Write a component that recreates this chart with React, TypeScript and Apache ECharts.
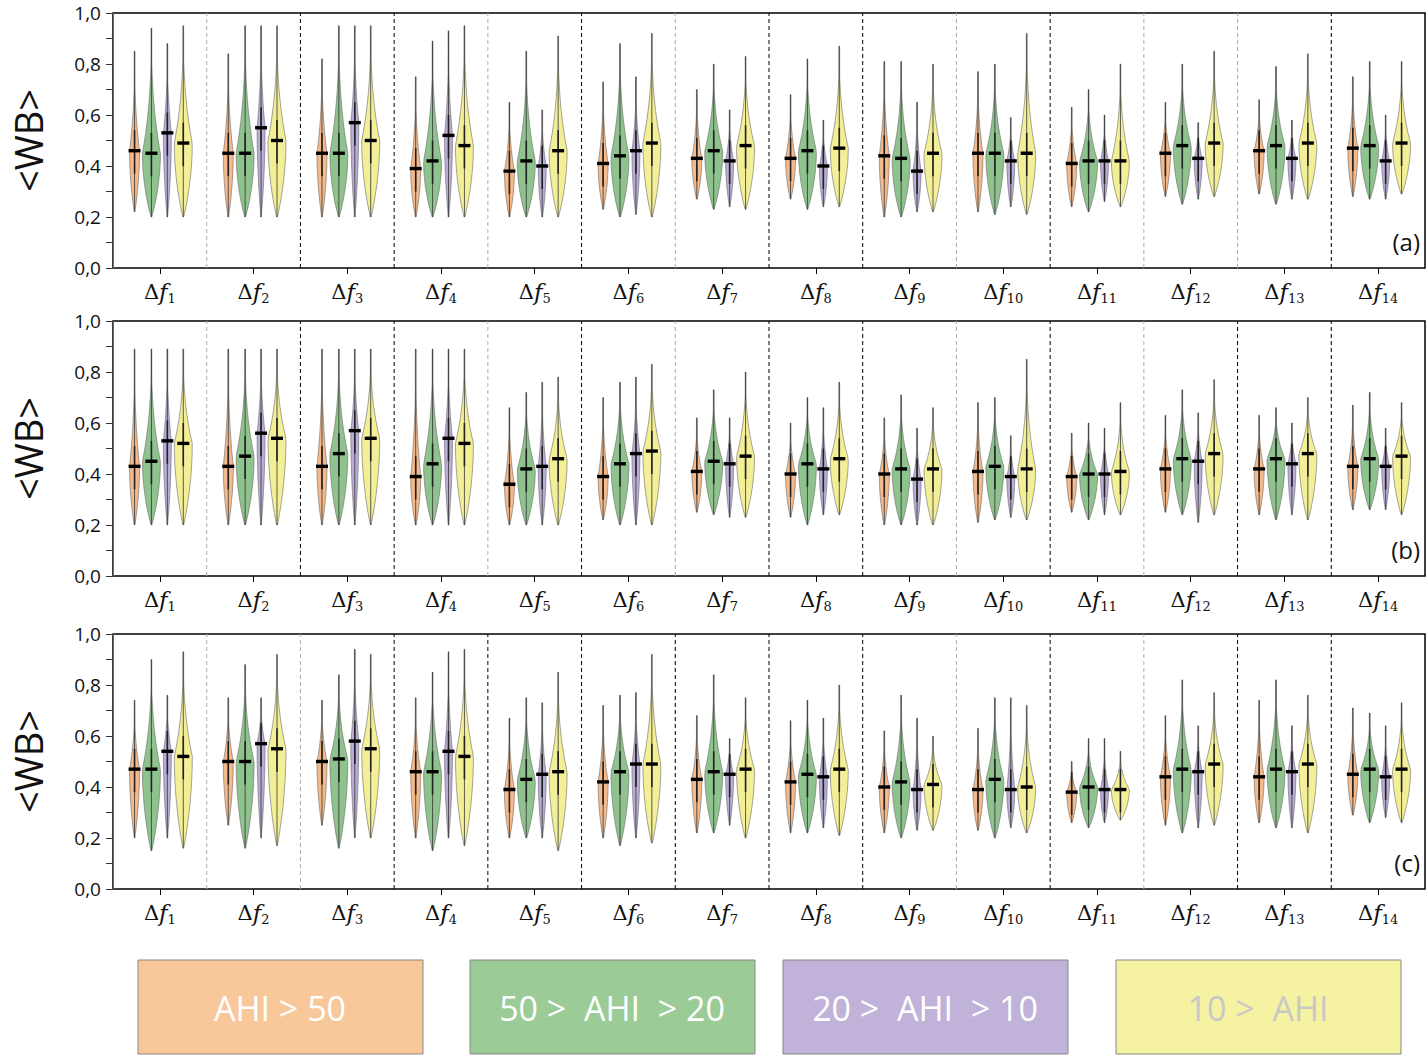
import { useRef, useEffect } from 'react';
import * as echarts from 'echarts';

const GROUPS = ['1', '2', '3', '4', '5', '6', '7', '8', '9', '10', '11', '12', '13', '14'];
const Y_TICKS = [0, 0.2, 0.4, 0.6, 0.8, 1.0];

// [orange, green, purple, yellow] per group
const A_MED = [[.46,.45,.53,.49],[.45,.45,.55,.50],[.45,.45,.57,.50],[.39,.42,.52,.48],[.38,.42,.40,.46],[.41,.44,.46,.49],[.43,.46,.42,.48],[.43,.46,.40,.47],[.44,.43,.38,.45],[.45,.45,.42,.45],[.41,.42,.42,.42],[.45,.48,.43,.49],[.46,.48,.43,.49],[.47,.48,.42,.49]];
const A_MIN = [[.22,.20,.20,.20],[.20,.20,.20,.20],[.20,.20,.20,.20],[.20,.20,.20,.20],[.20,.20,.20,.20],[.23,.20,.21,.20],[.27,.23,.24,.23],[.27,.23,.24,.24],[.20,.20,.22,.22],[.22,.21,.24,.21],[.24,.22,.26,.24],[.28,.25,.27,.28],[.29,.25,.27,.27],[.28,.27,.27,.29]];
const A_MAX = [[.85,.94,.88,.95],[.84,.95,.95,.95],[.82,.95,.95,.95],[.75,.89,.93,.95],[.65,.85,.62,.91],[.73,.88,.75,.92],[.70,.80,.62,.83],[.68,.82,.58,.87],[.81,.81,.65,.80],[.77,.80,.59,.92],[.63,.70,.60,.80],[.65,.80,.57,.85],[.66,.79,.58,.84],[.75,.81,.60,.81]];

const B_MED = [[.43,.45,.53,.52],[.43,.47,.56,.54],[.43,.48,.57,.54],[.39,.44,.54,.52],[.36,.42,.43,.46],[.39,.44,.48,.49],[.41,.45,.44,.47],[.40,.44,.42,.46],[.40,.42,.38,.42],[.41,.43,.39,.42],[.39,.40,.40,.41],[.42,.46,.45,.48],[.42,.46,.44,.48],[.43,.46,.43,.47]];
const B_MIN = [[.20,.20,.20,.20],[.20,.20,.20,.20],[.20,.20,.20,.20],[.20,.20,.20,.20],[.20,.20,.20,.20],[.22,.20,.20,.20],[.25,.24,.23,.23],[.23,.20,.24,.24],[.20,.20,.20,.20],[.21,.22,.23,.22],[.25,.22,.24,.24],[.25,.24,.21,.24],[.24,.22,.24,.22],[.26,.26,.26,.24]];
const B_MAX = [[.89,.89,.89,.89],[.89,.89,.89,.89],[.89,.89,.89,.89],[.89,.89,.89,.89],[.66,.72,.76,.78],[.70,.76,.78,.83],[.62,.73,.62,.80],[.60,.70,.66,.76],[.62,.71,.58,.66],[.68,.70,.55,.85],[.56,.60,.58,.68],[.63,.73,.64,.77],[.63,.66,.60,.70],[.67,.72,.58,.68]];

const C_MED = [[.47,.47,.54,.52],[.50,.50,.57,.55],[.50,.51,.58,.55],[.46,.46,.54,.52],[.39,.43,.45,.46],[.42,.46,.49,.49],[.43,.46,.45,.47],[.42,.45,.44,.47],[.40,.42,.39,.41],[.39,.43,.39,.40],[.38,.40,.39,.39],[.44,.47,.46,.49],[.44,.47,.46,.49],[.45,.47,.44,.47]];
const C_MIN = [[.20,.15,.20,.16],[.25,.16,.20,.17],[.25,.16,.20,.20],[.20,.15,.20,.17],[.20,.20,.20,.15],[.20,.17,.20,.18],[.22,.22,.25,.20],[.22,.22,.24,.21],[.22,.20,.23,.23],[.23,.20,.24,.22],[.26,.24,.26,.27],[.25,.22,.24,.25],[.26,.24,.24,.22],[.29,.26,.28,.26]];
const C_MAX = [[.74,.90,.76,.93],[.75,.88,.75,.92],[.74,.84,.94,.92],[.75,.85,.93,.94],[.67,.75,.73,.85],[.72,.76,.77,.92],[.68,.84,.59,.75],[.66,.74,.67,.80],[.62,.76,.67,.60],[.63,.75,.75,.72],[.50,.59,.59,.54],[.68,.82,.64,.77],[.74,.82,.64,.76],[.71,.69,.64,.73]];

// divider styles after each group: 1 = black dashed, 0 = gray dashed
const A_DIV = [0, 1, 1, 0, 1, 0, 1, 1, 0, 1, 0, 0, 1];
const B_DIV = [0, 1, 1, 0, 1, 0, 1, 1, 0, 1, 0, 1, 1];
const C_DIV = [0, 0, 1, 1, 1, 1, 1, 1, 0, 1, 0, 1, 1];

const FILLS = ['#f5b98a', '#8fc38e', '#b9acd6', '#f3ef96'];
const OFFSETS = [-0.27, -0.09, 0.08, 0.25];
const HALF_W = [5, 9, 4, 9];

function violinItem(params: any, api: any) {
  const g = api.value(0);
  const s = api.value(1);
  const lo = api.value(2);
  const med = api.value(3);
  const hi = api.value(4);
  const band = api.size([1, 0])[0];
  const cx = api.coord([g, 0])[0] + band * OFFSETS[s];
  const W = HALF_W[s];
  const n = 30;
  const right: number[][] = [];
  const left: number[][] = [];
  for (let i = 0; i <= n; i++) {
    const v = lo + ((hi - lo) * i) / n;
    let w;
    if (v <= med) {
      const u = Math.min(1, Math.max(0, (v - lo) / (med - lo || 1)));
      w = W * Math.pow(Math.sin((u * Math.PI) / 2), 0.8);
    } else {
      const u = Math.min(1, Math.max(0, (v - med) / (hi - med || 1)));
      w = W * Math.pow(1 - u, 2.5);
    }
    w = Math.max(w || 0, 0.4);
    const y = api.coord([g, v])[1];
    right.push([cx + w, y]);
    left.unshift([cx - w, y]);
  }
  const pts = right.concat(left);
  const yLo = api.coord([g, lo])[1];
  const yHi = api.coord([g, hi])[1];
  const yMed = api.coord([g, med])[1];
  const yQ1 = api.coord([g, Math.max(lo, med - 0.09)])[1];
  const yQ3 = api.coord([g, Math.min(hi, med + 0.08)])[1];
  return {
    type: 'group',
    children: [
      { type: 'polygon', shape: { points: pts }, style: { fill: FILLS[s], stroke: '#6a6a6a', lineWidth: 0.6 } },
      { type: 'line', shape: { x1: cx, y1: yLo, x2: cx, y2: yHi }, style: { stroke: '#333', lineWidth: 0.8 } },
      { type: 'line', shape: { x1: cx, y1: yQ1, x2: cx, y2: yQ3 }, style: { stroke: '#222', lineWidth: 1.6 } },
      { type: 'rect', shape: { x: cx - 6, y: yMed - 1.7, width: 12, height: 3.4 }, style: { fill: '#000' } },
    ],
  };
}

function dividerItem(params: any, api: any) {
  const i = api.value(0);
  const band = api.size([1, 0])[0];
  const x = api.coord([i, 0])[0] + band / 2;
  const y0 = api.coord([i, 0])[1];
  const y1 = api.coord([i, 1])[1];
  const black = api.value(1) === 1;
  return {
    type: 'line',
    shape: { x1: x, y1: y0, x2: x, y2: y1 },
    style: { stroke: black ? '#000' : '#aaa', lineWidth: 1, lineDash: [4, 3] },
  };
}

export default function App() {
  const ref = useRef<HTMLDivElement>(null);

  useEffect(() => {
    document.body.style.margin = '0';
    if (!ref.current) return;
    const chart = echarts.init(ref.current, undefined, { renderer: 'svg' });

    const panels = [
      { top: 13, med: A_MED, min: A_MIN, max: A_MAX, div: A_DIV, tag: '(a)' },
      { top: 321, med: B_MED, min: B_MIN, max: B_MAX, div: B_DIV, tag: '(b)' },
      { top: 634, med: C_MED, min: C_MIN, max: C_MAX, div: C_DIV, tag: '(c)' },
    ];

    const grids = panels.map((p) => ({
      left: 113, right: 3, top: p.top, height: 255, outerBoundsMode: 'none',
      show: true, borderColor: '#000', borderWidth: 1.5, backgroundColor: 'transparent',
    }));

    const xAxes = panels.map((_, k) => ({
      type: 'category', gridIndex: k, data: GROUPS,
      axisLine: { show: false },
      axisTick: { show: true, alignWithLabel: true, interval: 0, length: 6, lineStyle: { color: '#000' } },
      axisLabel: {
        margin: 10,
        interval: 0,
        formatter: (v: string) => `{d|Δ}{f|f}{s|${v}}`,
        rich: {
          d: { fontFamily: 'DejaVu Serif', fontSize: 21, color: '#111' },
          f: { fontFamily: 'DejaVu Serif', fontStyle: 'italic', fontSize: 23, color: '#111' },
          s: { fontFamily: 'DejaVu Serif', fontSize: 13, color: '#111', padding: [14, 0, 0, 0] },
        },
      },
    }));

    const yAxes = panels.map((_, k) => ({
      type: 'value', gridIndex: k, min: 0, max: 1, interval: 0.2,
      name: '<WB>', nameLocation: 'middle', nameGap: 66, nameRotate: 90,
      nameTextStyle: { fontFamily: 'Open Sans', fontSize: 38, color: '#111' },
      axisLine: { show: true, lineStyle: { color: '#666' } },
      axisTick: { show: true, length: 7, lineStyle: { color: '#333' } },
      minorTick: { show: true, splitNumber: 2, length: 7, lineStyle: { color: '#333' } },
      splitLine: { show: false },
      axisLabel: {
        fontFamily: 'Open Sans', fontSize: 19, color: '#111', margin: 12,
        formatter: (v: number) => (Y_TICKS.includes(Math.round(v * 10) / 10) ? v.toFixed(1).replace('.', ',') : ''),
      },
    }));

    const series: any[] = [];
    panels.forEach((p, k) => {
      const data: number[][] = [];
      p.med.forEach((row, g) => row.forEach((m, s) => data.push([g, s, p.min[g][s], m, p.max[g][s]])));
      series.push({
        type: 'custom', xAxisIndex: k, yAxisIndex: k, renderItem: dividerItem,
        data: p.div.map((b, i) => [i, b]), silent: true, clip: false,
      });
      series.push({
        type: 'custom', xAxisIndex: k, yAxisIndex: k, renderItem: violinItem,
        data, silent: true, clip: false,
        encode: { x: 0, y: [2, 3, 4] },
      });
    });

    const legendX = [138, 470, 783, 1116];
    const legendFill = ['#f8c89a', '#9bcb97', '#c0b2d8', '#f5f2a2'];
    const legendText = ['AHI > 50', '50 >  AHI  > 20', '20 >  AHI  > 10', '10 >  AHI'];
    const legendColor = ['#fff', '#fff', '#fff', '#c8c8c8'];
    const graphic: any[] = [];
    panels.forEach((p) => {
      graphic.push({
        type: 'text', right: 8, top: p.top + 216,
        style: { text: p.tag, fontFamily: 'Open Sans', fontSize: 24, fill: '#111' },
      });
    });
    legendX.forEach((x, i) => {
      graphic.push({
        type: 'rect', shape: { x, y: 960, width: 285, height: 94 },
        style: { fill: legendFill[i], stroke: '#888', lineWidth: 1 },
      });
      graphic.push({
        type: 'text', x: x + 142, y: 1008,
        style: {
          text: legendText[i], fontFamily: 'Open Sans', fontSize: 34, fill: legendColor[i],
          align: 'center', verticalAlign: 'middle',
        },
      });
    });

    chart.setOption({
      animation: false,
      grid: grids,
      xAxis: xAxes,
      yAxis: yAxes,
      series,
      graphic,
    });

    return () => chart.dispose();
  }, []);

  return <div ref={ref} style={{ width: 1428, height: 1056 }} />;
}
